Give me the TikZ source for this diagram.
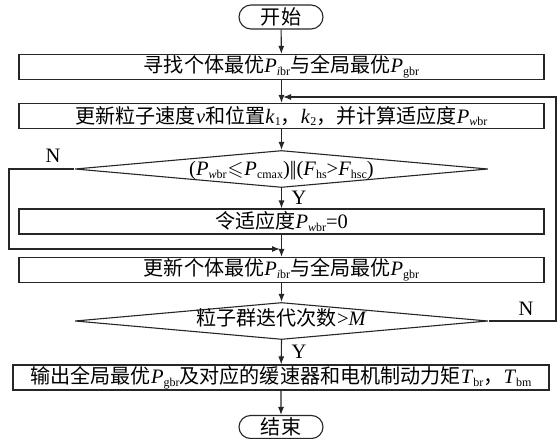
\documentclass[tikz,border=0pt]{standalone}
\usepackage{fontspec}
\usepackage{amssymb}
\setmainfont{Liberation Serif}
\newfontfamily\cjk[Scale=0.98]{Noto Sans CJK SC}
\usetikzlibrary{shapes.geometric,shapes.misc,arrows.meta}
\newcommand\sbs[1]{\raisebox{-0.3ex}{\fontsize{12}{12}\selectfont #1}}
\newcommand\hz[1]{{\cjk #1}}
\newcommand\vP{\textit{P}}
\tikzset{
  ln/.style={line width=1.1pt, draw=black!85},
  arr/.style={ln, -{Latex[length=8pt,width=6pt]}},
  boxn/.style={ln, rectangle, minimum width=525pt, minimum height=25pt, inner sep=0pt},
  term/.style={ln, rounded rectangle, minimum width=84pt, minimum height=24pt, inner sep=0pt},
  dia/.style={ln, diamond, minimum width=413pt, minimum height=37pt, inner sep=0pt},
  lab/.style={inner sep=0pt}
}
\begin{document}
\begin{tikzpicture}[x=1pt,y=-1pt,font=\fontsize{20.5}{23}\selectfont]
\useasboundingbox (0,0) rectangle (558,439);
\node[term] (start) at (281,17) {\hz{开始}};
\node[boxn] (b1) at (281.5,67) {\hz{寻找个体最优}\vP\sbs{\textit{i}br}\hz{与全局最优}\vP\sbs{gbr}};
\node[boxn] (b2) at (281.5,116) {\hz{更新粒子速度}\textit{v}\hz{和位置}\textit{k}\sbs{1}\hz{，}\textit{k}\sbs{2}\hz{，并计算适应度}\vP\sbs{\textit{w}br}};
\node[dia] (d1) at (281.5,169) {};
\node[lab] (d1t) at (281.5,171) {(\vP\sbs{\textit{w}br}\kern1pt$\leqslant$\kern1pt\vP\sbs{cmax})|\kern-1.5pt|(\textit{F}\sbs{hs}>\textit{F}\sbs{hsc})};
\node[boxn] (b3) at (281.5,221.5) {\hz{令适应度}\vP\sbs{\textit{w}br}=0};
\node[boxn] (b4) at (281.5,270) {\hz{更新个体最优}\vP\sbs{\textit{i}br}\hz{与全局最优}\vP\sbs{gbr}};
\node[dia] (d2) at (281.5,321) {};
\node[lab] (d2t) at (281.5,318) {\hz{粒子群迭代次数}>\textit{M}};
\node[boxn, minimum width=536pt] (b5) at (281,377.5) {\hz{输出全局最优}\vP\sbs{gbr}\hz{及对应的缓速器和电机制动力矩}\textit{T}\sbs{br}\hz{，}\textit{T}\sbs{bm}};
\node[term, minimum height=23pt] (end) at (281,427) {\hz{结束}};
\coordinate (m1) at (281.5,249);
\coordinate (m2) at (281.5,97);
\coordinate (cl) at (9,169);
\coordinate (cr) at (556,321);
\node[lab] (nl) at (53,156) {N};
\node[lab] (nr) at (526,309) {N};
\node[lab] (y1) at (299,198) {Y};
\node[lab] (y2) at (299,352) {Y};
\draw[arr] (start) -- (b1);
\draw[arr] (b1) -- (b2);
\draw[arr] (b2) -- (d1.north);
\draw[arr] (d1.south) -- (b3);
\draw[arr] (b3) -- (b4);
\draw[arr] (b4) -- (d2.north);
\draw[arr] (d2.south) -- (b5);
\draw[arr] (b5) -- (end);
\draw[arr, shorten >=1.5pt] (d1.west) -- (cl) |- (m1);
\draw[arr, shorten >=1.5pt] (d2.east) -- (cr) |- (m2);
\end{tikzpicture}
\end{document}
